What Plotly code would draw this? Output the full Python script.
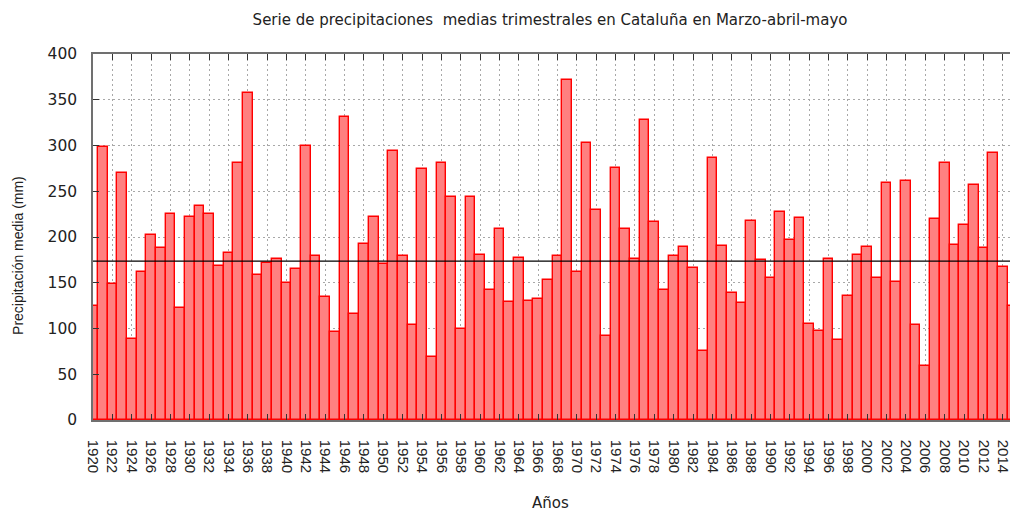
import plotly.graph_objects as go

years = list(range(1920, 2016))
precip = [
    124.9, 298.9, 148.5, 270.1, 88.1, 161.3, 201.7, 187.8, 225.0, 122.0,   # 1920-1929
    222.4, 234.4, 225.0, 167.8, 182.4, 280.7, 357.8, 158.0, 171.5, 176.2,  # 1930-1939
    149.6, 164.9, 300.0, 179.5, 134.7, 96.1, 331.3, 115.8, 192.6, 222.1,   # 1940-1949
    170.4, 294.1, 179.5, 103.4, 274.5, 68.4, 281.0, 243.2, 99.7, 243.2,    # 1950-1959
    180.6, 141.6, 208.6, 128.5, 176.9, 129.6, 132.5, 153.3, 179.5, 371.7,  # 1960-1969
    161.3, 303.2, 229.3, 91.7, 275.9, 208.6, 176.2, 327.6, 216.6, 141.6,   # 1970-1979
    178.7, 188.9, 165.6, 75.3, 286.5, 190.0, 139.1, 127.4, 218.0, 174.7,   # 1980-1989
    155.4, 227.1, 196.2, 221.0, 105.2, 97.6, 176.2, 87.0, 135.8, 180.6,    # 1990-1999
    188.9, 155.4, 259.5, 150.7, 261.7, 103.4, 59.3, 220.2, 281.4, 191.1,   # 2000-2009
    213.3, 256.3, 187.5, 291.9, 166.7, 124.1,                              # 2010-2015
]
mean_value = 173.6

title_text = "Serie de precipitaciones  medias trimestrales en Cataluña en Marzo-abril-mayo"
x_title = "Años"
y_title = "Precipitación media (mm)"

WIDE = "DejaVu Sans, Verdana, sans-serif"
NARROW = "Liberation Sans, Arial, sans-serif"
TXT = "#222222"

fig = go.Figure()
fig.add_trace(go.Bar(
    x=years, y=precip, width=1.0,
    marker=dict(color="rgb(255,128,128)", line=dict(color="rgb(255,0,0)", width=1.4)),
    showlegend=False,
))

fig.add_shape(type="line", xref="paper", x0=0, x1=1, yref="y", y0=mean_value, y1=mean_value,
              line=dict(color="black", width=1.3), layer="above")

fig.update_layout(
    width=1010, height=511,
    margin=dict(l=93, r=0, t=54, b=91, autoexpand=False),
    paper_bgcolor="white", plot_bgcolor="white",
    bargap=0,
    font=dict(family=WIDE, size=15, color=TXT),
    title=dict(text=title_text, x=0.5446, xanchor="center", y=0.961, yanchor="middle",
               font=dict(family=WIDE, size=15, color=TXT)),
    annotations=[
        dict(text=x_title, xref="paper", yref="paper", x=0.499, y=-0.227, showarrow=False,
             xanchor="center", yanchor="middle", font=dict(family=WIDE, size=15, color=TXT)),
        dict(text=y_title, xref="paper", yref="paper", x=-0.0818, y=0.451, showarrow=False,
             textangle=-90, xanchor="center", yanchor="middle",
             font=dict(family=NARROW, size=14, color=TXT)),
    ],
)

fig.update_xaxes(
    range=[1920, 2014.75], tick0=1920, dtick=2, tickmode="linear", automargin=False,
    tickangle=90, ticks="inside", ticklen=6, tickcolor="#333333",
    showline=True, linecolor="#707070", linewidth=1.5, mirror="ticks",
    showgrid=True, gridcolor="#a8a8a8", gridwidth=1, griddash="2px,3px",
    zeroline=False, ticklabelstandoff=15, ticklabeloverflow="allow",
    tickfont=dict(family=NARROW, size=15, color=TXT),
)
fig.update_yaxes(
    range=[0, 400], tick0=0, dtick=50, tickmode="linear", automargin=False,
    ticks="inside", ticklen=6, tickcolor="#333333",
    showline=True, linecolor="#707070", linewidth=1.5, mirror=False,
    showgrid=True, gridcolor="#a8a8a8", gridwidth=1, griddash="2px,3px",
    zeroline=False, ticklabelstandoff=11,
    tickfont=dict(family=WIDE, size=15.5, color=TXT),
)

fig.write_html("out.html", config={"displayModeBar": False},
               post_script="document.body.style.margin='0';document.body.style.padding='0';")
